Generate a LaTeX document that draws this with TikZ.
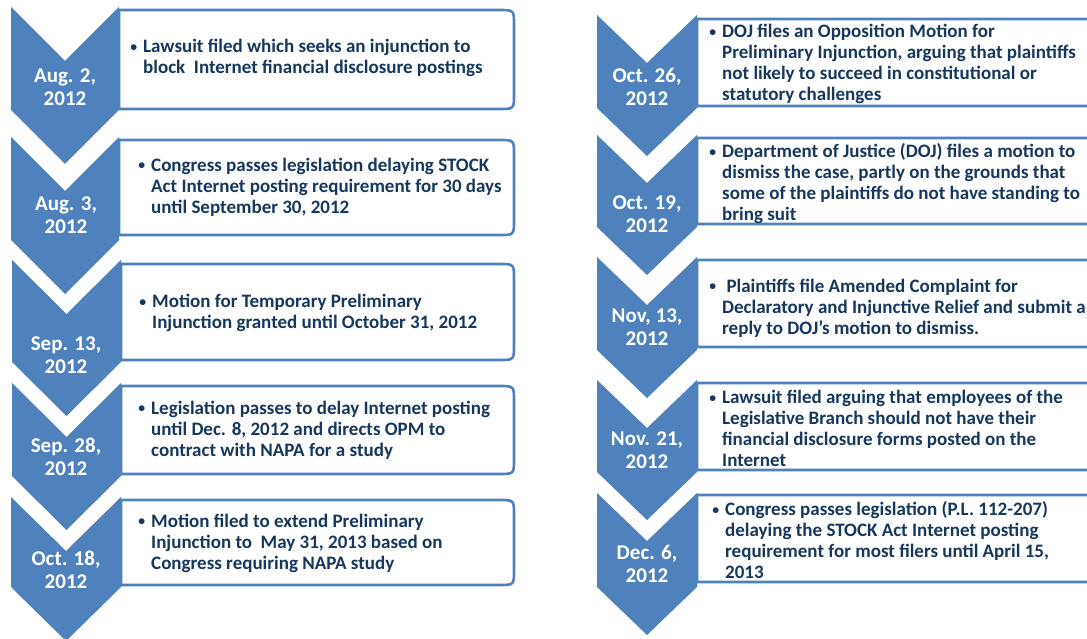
\documentclass[tikz,border=0pt]{standalone}
\usepackage{fontspec}
\setmainfont{Carlito}
\definecolor{chevblue}{HTML}{4F81BD}
\definecolor{txtnavy}{HTML}{17375E}
\tikzset{
  x=1pt, y=-1pt,
  chev/.style={fill=chevblue, draw=none},
  bx/.style={draw=chevblue, line width=2.6pt, fill=white, line join=round},
  datelbl/.style={text=white, font=\fontsize{21}{23}\selectfont\bfseries, align=center, inner sep=0pt},
  evtxt/.style={text=txtnavy, font=\fontsize{19}{21}\selectfont\bfseries, align=left, anchor=west, inner sep=0pt},
}
% chevron: #1 left x, #2 right x, #3 top y, #4 side-end y, #5 depth
\newcommand{\mychev}[5]{%
  \fill[chev] (#1,#3) -- ({(#1+#2)/2},{#3+#5}) -- (#2,#3) -- (#2,#4) -- ({(#1+#2)/2},{#4+#5}) -- (#1,#4) -- cycle;}
% box: #1 left x, #2 right x, #3 top y, #4 bottom y
\newcommand{\mybox}[4]{%
  \draw[bx] (#1,#3) -- ({#2-15},#3) .. controls (#2,#3) .. (#2,{#3+15}) -- (#2,{#4-15}) .. controls (#2,#4) .. ({#2-15},#4) -- (#1,#4) -- cycle;}
\newcommand{\bul}{\llap{\raisebox{1.2pt}{\scalebox{0.72}{\textbullet}}\hspace{6pt}}}
\begin{document}
\begin{tikzpicture}
\path[use as bounding box] (0,0) rectangle (1087,639);
\clip (0,0) rectangle (1087,639);
\fill[white] (0,0) rectangle (1087,639);

% ---------- left column ----------
\mybox{119}{514}{10}{109}
\mybox{119}{514}{140}{235}
\mybox{121}{514}{264}{360}
\mybox{121}{514}{386}{474}
\mybox{121}{514}{500}{585}

\mychev{11}{119}{7}{110}{54}
\mychev{11}{119}{137}{240}{54}
\mychev{12}{121}{260}{362}{54}
\mychev{12}{121}{383}{476}{54}
\mychev{11}{121}{497}{587}{54}

\node[datelbl] (d1) at (65,87) {Aug. 2,\\2012};
\node[datelbl] (d2) at (66,215) {Aug. 3,\\2012};
\node[datelbl] (d3) at (66,355) {Sep. 13,\\2012};
\node[datelbl] (d4) at (66,457) {Sep. 28,\\2012};
\node[datelbl] (d5) at (66,570) {Oct. 18,\\2012};

\node[evtxt] (e1) at (143,58) {\bul Lawsuit filed which seeks an injunction to\\block \ Internet financial disclosure postings};
\node[evtxt] (e2) at (151,187) {\bul Congress passes legislation delaying STOCK\\Act Internet posting requirement for 30 days\\until September 30, 2012};
\node[evtxt] (e3) at (152,313) {\bul Motion for Temporary Preliminary\\Injunction granted until October 31, 2012};
\node[evtxt] (e4) at (151,430) {\bul Legislation passes to delay Internet posting\\until Dec. 8, 2012 and directs OPM to\\contract with NAPA for a study};
\node[evtxt] (e5) at (151,543) {\bul Motion filed to extend Preliminary\\Injunction to \ May 31, 2013 based on\\Congress requiring NAPA study};

% ---------- right column ----------
\mybox{697}{1102}{19}{106}
\mybox{697}{1102}{138}{224}
\mybox{697}{1102}{260}{347}
\mybox{697}{1102}{383}{470}
\mybox{697}{1102}{495}{582}

\mychev{597}{697}{15}{108}{48}
\mychev{597}{697}{135}{227}{48}
\mychev{597}{697}{257}{350}{48}
\mychev{597}{697}{380}{472}{48}
\mychev{597}{697}{493}{587}{48}

\node[datelbl] (f1) at (647,87) {Oct. 26,\\2012};
\node[datelbl] (f2) at (647,214) {Oct. 19,\\2012};
\node[datelbl] (f3) at (647,327) {Nov, 13,\\2012};
\node[datelbl] (f4) at (647,450) {Nov. 21,\\2012};
\node[datelbl] (f5) at (647,564) {Dec. 6,\\2012};

\node[evtxt] (g1) at (722,64) {\bul DOJ files an Opposition Motion for\\Preliminary Injunction, arguing that plaintiffs\\not likely to succeed in constitutional or\\statutory challenges};
\node[evtxt] (g2) at (722,183.5) {\bul Department of Justice (DOJ) files a motion to\\dismiss the case, partly on the grounds that\\some of the plaintiffs do not have standing to\\bring suit};
\node[evtxt] (g3) at (722,308) {\bul\ Plaintiffs file Amended Complaint for\\Declaratory and Injunctive Relief and submit a\\reply to DOJ’s motion to dismiss.};
\node[evtxt] (g4) at (722,428.5) {\bul Lawsuit filed arguing that employees of the\\Legislative Branch should not have their\\financial disclosure forms posted on the\\Internet};
\node[evtxt] (g5) at (725,540) {\bul Congress passes legislation (P.L. 112-207)\\delaying the STOCK Act Internet posting\\requirement for most filers until April 15,\\2013};
\end{tikzpicture}
\end{document}
